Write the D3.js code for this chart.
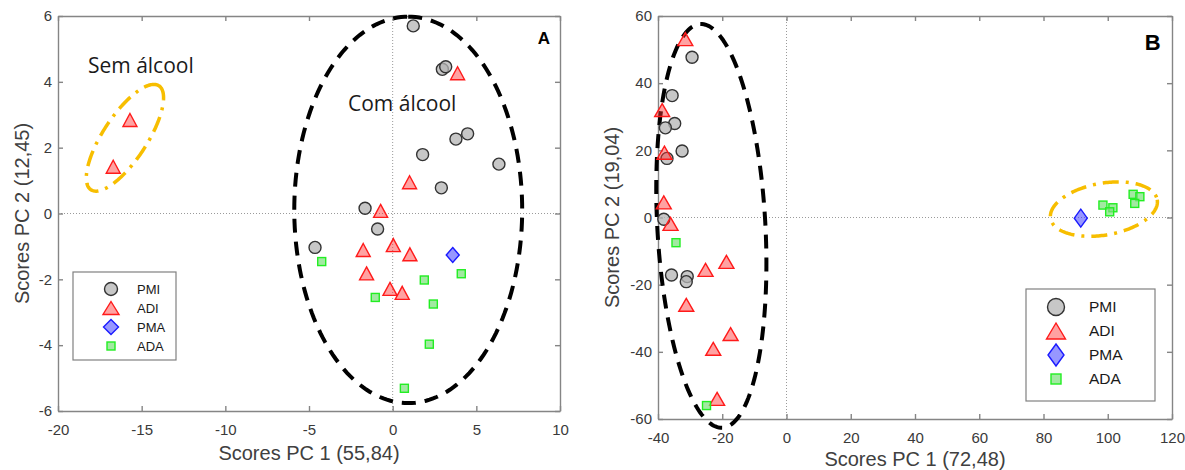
<!DOCTYPE html>
<html>
<head>
<meta charset="utf-8">
<script src="https://cdn.jsdelivr.net/npm/d3@7"></script>
<style>
	body { margin: 0; background: #fff; }
	svg { display: block; }
	.tick text { font-family: "Liberation Sans", Arial, sans-serif; font-size: 15px; fill: #3a3a3a; }
	.frame path, .frame line { stroke: #858585; stroke-width: 1.4; }
	.title { font-family: "Liberation Sans", Arial, sans-serif; font-size: 20px; fill: #404040; }
	.note { font-family: "Open Sans", sans-serif; font-size: 21px; fill: #1a1a1a; }
	.legend text { font-family: "Liberation Sans", Arial, sans-serif; fill: #1a1a1a; }
</style>
</head>
<body>
<div id="chart"></div>
<script>
// ---- panel A (PC scores, 55,84 / 12,45) ----
var pmiA = [[1.23,5.70],[2.97,4.38],[3.17,4.46],[3.78,2.26],[4.48,2.42],[1.79,1.79],[6.35,1.50],[2.91,0.78],[-1.65,0.16],[-0.90,-0.47],[-4.64,-1.03]];
var adiA = [[-15.7,2.84],[-16.7,1.42],[3.88,4.26],[1.01,0.95],[-0.72,0.08],[-1.76,-1.11],[0.04,-0.96],[1.03,-1.24],[-1.56,-1.82],[-0.16,-2.29],[0.57,-2.41]];
var pmaA = [[3.59,-1.26]];
var adaA = [[-4.24,-1.46],[4.10,-1.83],[1.89,-2.02],[-1.04,-2.55],[2.43,-2.75],[2.19,-3.97],[0.70,-5.31]];
var xTicksA = [-20,-15,-10,-5,0,5,10];
var yTicksA = [-6,-4,-2,0,2,4,6];

// ---- panel B (PC scores, 72,48 / 19,04) ----
var pmiB = [[-29.4,47.7],[-35.6,36.3],[-34.8,28.0],[-37.7,26.7],[-32.5,19.8],[-37.2,17.6],[-38.2,-0.5],[-35.8,-17.1],[-30.9,-17.6],[-31.2,-19.1]];
var adiB = [[-31.5,53.1],[-38.7,32.0],[-38.0,19.3],[-38.2,4.5],[-36.1,-1.9],[-25.2,-15.6],[-18.7,-13.2],[-31.2,-26.0],[-17.4,-34.7],[-22.8,-39.1],[-21.6,-54.0]];
var pmaB = [[91.6,-0.2]];
var adaB = [[-34.4,-7.5],[-24.9,-56.0],[98.5,3.7],[101.6,2.9],[100.6,1.7],[107.9,6.9],[110.0,6.2],[108.4,4.2]];
var xTicksB = [-40,-20,0,20,40,60,80,100,120];
var yTicksB = [-60,-40,-20,0,20,40,60];

var groups = ["PMI", "ADI", "PMA", "ADA"];

// ellipses: centre, half axis a, half axis b (data units)
var ellipsesA = [
	{c: [-16.0, 2.30], a: [2.03, 1.58], b: [1.10, -0.365], kind: "gold"},
	{c: [0.93, 0.11], a: [0, 5.87], b: [6.81, 0], kind: "black"}
];
var ellipsesB = [
	{c: [-23.4, -2.5], a: [-3.43, 60.1], b: [16.8, 0.87], kind: "black"},
	{c: [98.8, 2.5], a: [16.6, 2.8], b: [1.4, -7.6], kind: "gold"}
];

var styles = {
	PMI: {fill: "#b4b4b4", op: 0.75, stroke: "#333333"},
	ADI: {fill: "#ff3030", op: 0.45, stroke: "#ff1a1a"},
	PMA: {fill: "#3030ff", op: 0.5, stroke: "#1a1aff"},
	ADA: {fill: "#7be07b", op: 0.7, stroke: "#22ee22"}
};

var svg = d3.select("#chart").append("svg")
	.attr("width", 1185)
	.attr("height", 470);

function marker(g, type, sz) {
	var s = styles[type], p;
	if (type == "PMI") {
		p = g.append("circle").attr("r", sz.r);
	} else if (type == "ADI") {
		var w = sz.tw / 2, h = sz.th / 2;
		p = g.append("path").attr("d", "M0," + (-h) + "L" + w + "," + h + "L" + (-w) + "," + h + "Z");
	} else if (type == "PMA") {
		var w = sz.dw / 2, h = sz.dh / 2;
		p = g.append("path").attr("d", "M0," + (-h) + "L" + w + ",0L0," + h + "L" + (-w) + ",0Z");
	} else {
		var q = sz.sq / 2;
		p = g.append("rect").attr("x", -q).attr("y", -q).attr("width", sz.sq).attr("height", sz.sq);
	}
	p.attr("fill", s.fill).attr("fill-opacity", s.op)
		.attr("stroke", s.stroke).attr("stroke-width", 1.4);
}

function plain(d) { return String(d); } // hyphen minus like the original

function drawPanel(cfg) {
	var x = d3.scaleLinear().domain(cfg.xDomain).range([0, cfg.w]);
	var y = d3.scaleLinear().domain(cfg.yDomain).range([cfg.h, 0]);
	var g = svg.append("g").attr("transform", "translate(" + cfg.left + "," + cfg.top + ")");

	// zero lines
	g.append("line")
		.attr("x1", x(0)).attr("x2", x(0)).attr("y1", 0).attr("y2", cfg.h)
		.attr("stroke", "#9a9a9a").attr("stroke-width", 1).attr("stroke-dasharray", "1,2");
	g.append("line")
		.attr("x1", 0).attr("x2", cfg.w).attr("y1", y(0)).attr("y2", y(0))
		.attr("stroke", "#9a9a9a").attr("stroke-width", 1).attr("stroke-dasharray", "1,2");

	// frame with inward ticks on all sides
	var bottom = g.append("g").attr("class", "frame")
		.attr("transform", "translate(0," + cfg.h + ")")
		.call(d3.axisBottom(x).tickValues(cfg.xTicks).tickSize(-5).tickSizeOuter(0).tickFormat(plain));
	bottom.selectAll(".tick text").attr("y", 24).attr("dy", null);
	g.append("g").attr("class", "frame")
		.call(d3.axisTop(x).tickValues(cfg.xTicks).tickSize(-5).tickSizeOuter(0).tickFormat(""));
	g.append("g").attr("class", "frame")
		.call(d3.axisLeft(y).tickValues(cfg.yTicks).tickSize(-5).tickSizeOuter(0).tickPadding(6).tickFormat(plain));
	g.append("g").attr("class", "frame")
		.attr("transform", "translate(" + cfg.w + ",0)")
		.call(d3.axisRight(y).tickValues(cfg.yTicks).tickSize(-5).tickSizeOuter(0).tickFormat(""));

	// ellipses
	var line = d3.line().x(function(d) { return x(d[0]); }).y(function(d) { return y(d[1]); });
	cfg.ellipses.forEach(function(e) {
		var pts = d3.range(0, 201).map(function(i) {
			var t = i / 200 * 2 * Math.PI;
			return [e.c[0] + Math.cos(t) * e.a[0] + Math.sin(t) * e.b[0],
				e.c[1] + Math.cos(t) * e.a[1] + Math.sin(t) * e.b[1]];
		});
		var p = g.append("path").attr("d", line(pts)).attr("fill", "none");
		if (e.kind == "black") {
			p.attr("stroke", "#000").attr("stroke-width", 4).attr("stroke-dasharray", "14,9");
		} else {
			p.attr("stroke", "#f7be00").attr("stroke-width", 3.5).attr("stroke-dasharray", "16,7,3,7");
		}
	});

	// points
	var series = [cfg.pmi, cfg.adi, cfg.pma, cfg.ada];
	series.forEach(function(data, k) {
		data.forEach(function(d) {
			var m = g.append("g").attr("transform", "translate(" + x(d[0]) + "," + y(d[1]) + ")");
			marker(m, groups[k], cfg.sizes);
		});
	});

	// texts
	cfg.notes.forEach(function(n) {
		g.append("text").attr("class", "note")
			.attr("x", x(n.x)).attr("y", y(n.y)).text(n.text);
	});
	g.append("text")
		.attr("x", x(cfg.tag.x)).attr("y", y(cfg.tag.y))
		.attr("text-anchor", "end")
		.style("font-family", "'Liberation Sans', Arial, sans-serif")
		.style("font-weight", "bold")
		.style("font-size", cfg.tag.size + "px")
		.text(cfg.tag.text);

	// axis titles
	g.append("text").attr("class", "title")
		.attr("x", cfg.w / 2).attr("y", cfg.xTitleY)
		.attr("text-anchor", "middle").text(cfg.xTitle);
	g.append("text").attr("class", "title")
		.attr("transform", "translate(" + cfg.yTitleX + "," + cfg.h / 2 + ") rotate(-90)")
		.attr("text-anchor", "middle").attr("dy", "0.35em").text(cfg.yTitle);

	// legend
	var L = cfg.legend;
	var lg = g.append("g").attr("class", "legend")
		.attr("transform", "translate(" + L.x + "," + L.y + ")");
	lg.append("rect").attr("width", L.w).attr("height", L.h)
		.attr("fill", "#fff").attr("stroke", "#808080").attr("stroke-width", 1.2);
	groups.forEach(function(name, i) {
		var row = lg.append("g").attr("transform", "translate(" + L.sx + "," + (L.ry0 + i * L.dy) + ")");
		marker(row, name, L.sizes);
		row.append("text").attr("x", L.tx - L.sx).attr("dy", "0.35em")
			.style("font-size", L.font + "px").text(name);
	});
}

drawPanel({
	left: 58, top: 16, w: 502, h: 395,
	xDomain: [-20, 10], yDomain: [-6, 6],
	xTicks: xTicksA, yTicks: yTicksA,
	pmi: pmiA, adi: adiA, pma: pmaA, ada: adaA,
	sizes: {r: 6, tw: 14, th: 13, dw: 13, dh: 15, sq: 8},
	ellipses: ellipsesA,
	notes: [{x: -18.21, y: 4.27, text: "Sem álcool"}, {x: -2.67, y: 3.12, text: "Com álcool"}],
	tag: {x: 9.4, y: 5.15, text: "A", size: 17},
	xTitle: "Scores PC 1 (55,84)", xTitleY: 444,
	yTitle: "Scores PC 2 (12,45)", yTitleX: -36,
	legend: {x: 15, y: 256, w: 103, h: 88, sx: 38, tx: 64, ry0: 17, dy: 19, font: 13,
		sizes: {r: 6.5, tw: 16, th: 13, dw: 15, dh: 15, sq: 8}}
});

drawPanel({
	left: 658, top: 16, w: 514, h: 403,
	xDomain: [-40, 120], yDomain: [-60, 60],
	xTicks: xTicksB, yTicks: yTicksB,
	pmi: pmiB, adi: adiB, pma: pmaB, ada: adaB,
	sizes: {r: 6, tw: 15, th: 13, dw: 13, dh: 18, sq: 8},
	ellipses: ellipsesB,
	notes: [],
	tag: {x: 116.5, y: 49.9, text: "B", size: 22},
	xTitle: "Scores PC 1 (72,48)", xTitleY: 450,
	yTitle: "Scores PC 2 (19,04)", yTitleX: -46,
	legend: {x: 368, y: 273, w: 129, h: 112, sx: 30, tx: 63, ry0: 18, dy: 24, font: 15.5,
		sizes: {r: 8.5, tw: 19, th: 16, dw: 16, dh: 22, sq: 10}}
});
</script>
</body>
</html>
